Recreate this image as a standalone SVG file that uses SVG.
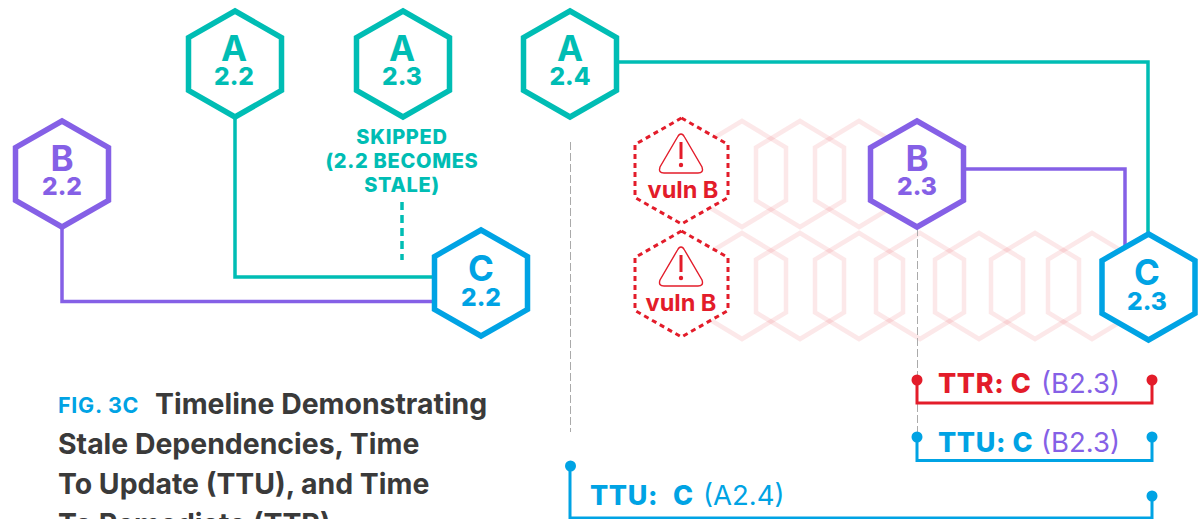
<svg xmlns="http://www.w3.org/2000/svg" width="1201" height="519" viewBox="0 0 1201 519">
<style>
text{font-family:Inter,"Liberation Sans",sans-serif;font-weight:700}
.hex{fill:#fff;stroke-width:5.5;stroke-linejoin:miter}
.t{stroke:#00bdb4}.p{stroke:#8560e6}.b{stroke:#00a3e4}.r{stroke:#e31c2a}
.tf{fill:#00bdb4}.pf{fill:#8560e6}.bf{fill:#00a3e4}.rf{fill:#e31c2a}
.big{font-size:35px;text-anchor:middle}.ver{font-size:24.500px;font-weight:800;text-anchor:middle}
.line{fill:none;stroke-width:3.5}
.thin{fill:none;stroke-width:3}
.ghost{fill:none;stroke:#e31c2a;stroke-opacity:.1;stroke-width:4.5}
.grey{fill:none;stroke:#aaa;stroke-width:1;stroke-dasharray:8 3}
.dash{fill:#fff;stroke:#e31c2a;stroke-width:3;stroke-dasharray:5 4}
.cap{font-size:28.400px;fill:#3a3a3a}
.lab{font-size:27px;font-weight:800;letter-spacing:.6px}
.reg{font-weight:400;font-size:27.500px;letter-spacing:0}
.sk{font-size:20px;font-weight:800;letter-spacing:.7px;text-anchor:middle;fill:#00bdb4}
.vuln{font-size:23.500px;fill:#e31c2a;text-anchor:middle}
</style>
<defs>
<polygon id="h" points="0,-53 46.5,-26.5 46.5,26.5 0,53 -46.5,26.5 -46.5,-26.5"/>
<polygon id="g" points="0,-53 44,-26.5 44,26.5 0,53 -44,26.5 -44,-26.5"/>
<g id="warn">
<path d="M0,-19 Q2,-19 3.5,-16 L21,14 Q23,20 17,20 L-17,20 Q-23,20 -21,14 L-3.5,-16 Q-2,-19 0,-19Z" fill="#fff" stroke="#e31c2a" stroke-width="1.4"/>
<path d="M0,-11V6" stroke="#e31c2a" stroke-width="3" fill="none"/>
<circle cx="0" cy="12" r="2.2" fill="#e31c2a"/>
</g>
</defs>
<g id="ghosts" class="ghost">
<use href="#g" x="742" y="174"/><use href="#g" x="800" y="174"/><use href="#g" x="859" y="174"/>
<use href="#g" x="742" y="286"/><use href="#g" x="800" y="286"/><use href="#g" x="859" y="286"/><use href="#g" x="920" y="286"/><use href="#g" x="979" y="286"/><use href="#g" x="1035" y="286"/><use href="#g" x="1092" y="286"/>
</g>
<g id="connectors">
<path class="line t" d="M235,117V277H434"/>
<path class="line p" d="M62,227V301.500H434"/>
<path class="line t" d="M618,62H1148V234"/>
<path class="line p" d="M966,169H1125V246"/>
<path class="line t" d="M402,202V260" stroke-dasharray="8 5"/>
<path class="grey" d="M570.500,142V432"/>
<path class="grey" d="M917.500,228V432"/>
<path class="thin r" d="M917,380V403H1152V380"/>
<path class="thin b" d="M917,437V460.500H1152V437"/>
<path class="thin b" d="M570,466V518H1152V496"/>
<circle class="rf" cx="917" cy="380" r="5.500"/><circle class="rf" cx="1152" cy="380" r="5.500"/>
<circle class="bf" cx="917" cy="437" r="5.500"/><circle class="bf" cx="1152" cy="437" r="5.500"/>
<circle class="bf" cx="570.500" cy="466" r="5.500"/><circle class="bf" cx="1152" cy="496" r="5.500"/>
</g>
<g id="vuln1">
<use href="#h" x="681.500" y="171" class="dash"/>
<use href="#warn" x="681" y="153"/>
<text class="vuln" x="683" y="198">vuln B</text>
</g>
<g id="vuln2">
<use href="#h" x="681.500" y="284" class="dash"/>
<use href="#warn" x="681" y="266"/>
<text class="vuln" x="681" y="311">vuln B</text>
</g>
<g id="a22"><use href="#h" x="235" y="64" class="hex t"/><text class="big tf" x="234" y="61">A</text><text class="ver tf" x="234" y="85">2.2</text></g>
<g id="a23"><use href="#h" x="403" y="64" class="hex t"/><text class="big tf" x="402" y="61">A</text><text class="ver tf" x="402" y="85">2.3</text></g>
<g id="a24"><use href="#h" x="570" y="64" class="hex t"/><text class="big tf" x="570" y="61">A</text><text class="ver tf" x="570" y="85">2.4</text></g>
<g id="b22"><use href="#h" x="62" y="174" class="hex p"/><text class="big pf" x="62" y="171">B</text><text class="ver pf" x="62" y="195">2.2</text></g>
<g id="b23"><use href="#h" x="917" y="174" class="hex p"/><text class="big pf" x="917" y="171">B</text><text class="ver pf" x="917" y="195">2.3</text></g>
<g id="c22"><use href="#h" x="481" y="283" class="hex b"/><text class="big bf" x="481" y="281">C</text><text class="ver bf" x="481" y="306">2.2</text></g>
<g id="c23"><use href="#h" x="1148.500" y="287" class="hex b"/><text class="big bf" x="1147" y="285">C</text><text class="ver bf" x="1147" y="310">2.3</text></g>
<g id="skipped">
<text class="sk" x="402" y="144">SKIPPED</text>
<text class="sk" x="402" y="167.500">(2.2 BECOMES</text>
<text class="sk" x="402" y="192">STALE)</text>
</g>
<g id="labels">
<text class="lab rf" x="938" y="393">TTR: C<tspan class="reg pf" x="1041">(B2.3)</tspan></text>
<text class="lab bf" x="938" y="452">TTU: C<tspan class="reg pf" x="1041">(B2.3)</tspan></text>
<text class="lab bf" x="590" y="505">TTU: <tspan x="673">C</tspan><tspan class="reg bf" x="703">(A2.4)</tspan></text>
</g>
<g id="caption">
<text class="bf" x="58" y="413" font-size="21.500" font-weight="800" letter-spacing=".7">FIG. 3C</text>
<text class="cap" x="155" y="414">Timeline Demonstrating</text>
<text class="cap" x="58" y="454">Stale Dependencies, Time</text>
<text class="cap" x="58" y="494">To Update (TTU), and Time</text>
<text class="cap" x="58" y="534">To Remediate (TTR)</text>
</g>
</svg>
